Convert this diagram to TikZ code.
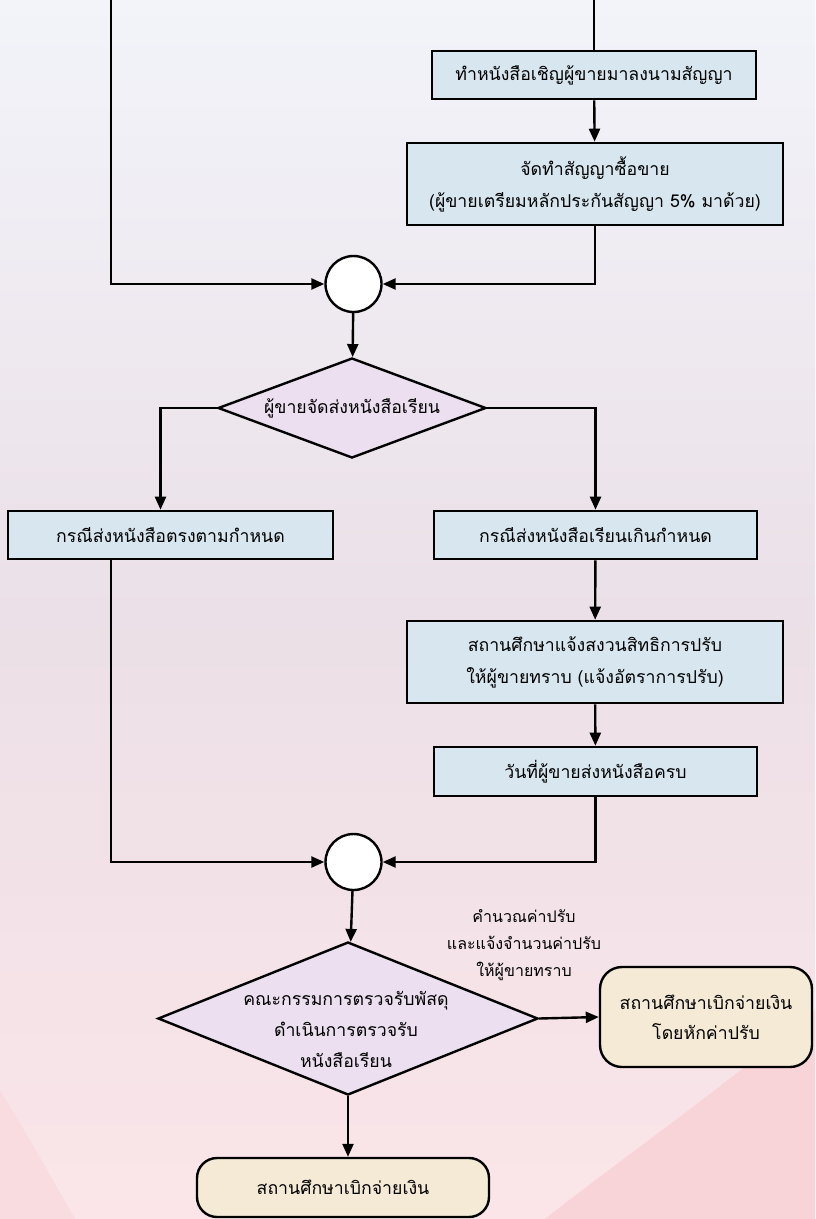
\documentclass[tikz,border=0pt]{standalone}
\usepackage{fontspec}
\setmainfont[Script=Thai]{Loma}
\usepackage{tikz}
\usetikzlibrary{arrows.meta,positioning,shapes.geometric}
\definecolor{boxblue}{HTML}{D7E6EF}
\definecolor{decpurple}{HTML}{EBDFF0}
\definecolor{termcream}{HTML}{F5EAD6}
\definecolor{bgtop}{HTML}{F2F4FA}
\definecolor{bgmid}{HTML}{EBE0E7}
\definecolor{bgbot}{HTML}{FBE5E8}
\definecolor{bgswoosh}{HTML}{F8D3D8}
\definecolor{bgcorner}{HTML}{F8DCE0}
\tikzset{
  procbox/.style={rectangle,draw,line width=2.6pt,fill=boxblue,align=center,inner sep=2pt},
  decision/.style={diamond,draw,line width=2.4pt,fill=decpurple,inner sep=0pt,align=center},
  joint/.style={circle,draw,line width=2.4pt,fill=white,minimum size=56pt,inner sep=0pt},
  termbox/.style={rectangle,draw,line width=2.4pt,fill=termcream,rounded corners=22pt,align=center},
  flow/.style={line width=2.4pt,-{Triangle[length=13pt,width=11pt]}},
  plain/.style={line width=2.4pt}
}
\begin{document}
\begin{tikzpicture}[x=1pt,y=-1pt,font=\fontsize{17.7}{32}\selectfont]
% background
\useasboundingbox (0,0) rectangle (815,1219);
\shade[top color=bgtop,bottom color=bgbot,middle color=bgmid] (0,0) rectangle (815,1219);
\fill[bgswoosh] (545,1219) .. controls (620,1160) and (720,1090) .. (815,1010) -- (815,1219) -- cycle;
\fill[bgcorner] (0,1090) .. controls (30,1140) .. (75,1219) -- (0,1219) -- cycle;
% draw nodes
\node[procbox,minimum width=324pt,minimum height=48pt] (invite) at (594,75) {ทำหนังสือเชิญผู้ขายมาลงนามสัญญา};
\node[procbox,minimum width=376pt,minimum height=82pt] (contract) at (595,184) {จัดทำสัญญาซื้อขาย\\(ผู้ขายเตรียมหลักประกันสัญญา 5\% มาด้วย)};
\node[joint] (join1) at (353.5,284) {};
\node[decision,shape aspect=2.68,minimum width=268pt,minimum height=100pt] (dec1) at (352,408) {ผู้ขายจัดส่งหนังสือเรียน};
\node[procbox,minimum width=325pt,minimum height=48pt] (ontime) at (170.5,535) {กรณีส่งหนังสือตรงตามกำหนด};
\node[procbox,minimum width=323pt,minimum height=48pt] (late) at (595.5,535) {กรณีส่งหนังสือเรียนเกินกำหนด};
\node[procbox,minimum width=376pt,minimum height=82pt] (notify) at (595,662) {สถานศึกษาแจ้งสงวนสิทธิการปรับ\\ให้ผู้ขายทราบ (แจ้งอัตราการปรับ)};
\node[procbox,minimum width=323pt,minimum height=49pt] (delivered) at (595.5,771.5) {วันที่ผู้ขายส่งหนังสือครบ};
\node[joint] (join2) at (353.5,862) {};
\node[decision,minimum width=380pt,minimum height=153pt] (dec2) at (348,1018.5) {};
\node[align=center,font=\fontsize{17.7}{31}\selectfont] (dec2text) at (346,1029) {คณะกรรมการตรวจรับพัสดุ\\ดำเนินการตรวจรับ\\หนังสือเรียน};
\node[termbox,minimum width=212pt,minimum height=100pt,font=\fontsize{17.7}{30}\selectfont] (paycut) at (706,1017) {สถานศึกษาเบิกจ่ายเงิน\\โดยหักค่าปรับ};
\node[termbox,minimum width=292pt,minimum height=59pt,rounded corners=20pt] (pay) at (343,1187.5) {สถานศึกษาเบิกจ่ายเงิน};
\node[align=center,font=\fontsize{16}{27}\selectfont] (finenote) at (524,945) {คำนวณค่าปรับ\\และแจ้งจำนวนค่าปรับ\\ให้ผู้ขายทราบ};
% draw connectors
\coordinate (inL) at (111,0);
\coordinate (inR) at (594,0);
\draw[flow] (inL) |- (join1);
\draw[plain] (inR) -- (inR |- invite.north);
\draw[flow] (invite) -- (contract);
\draw[flow] (contract) |- (join1);
\draw[flow] (join1) -- (dec1);
\draw[flow] (dec1.west) -| ([xshift=-10pt]ontime.north);
\draw[flow] (dec1.east) -| (late.north);
\draw[flow] ([xshift=-59.5pt]ontime.south) |- (join2);
\draw[flow] (late) -- (notify);
\draw[flow] (notify) -- (delivered);
\draw[flow] (delivered) |- (join2);
\draw[flow] (join2) -- (dec2);
\draw[flow] (dec2.east) -- (paycut.west);
\draw[flow] (dec2.south) -- (dec2.south |- pay.north);
\end{tikzpicture}
\end{document}
